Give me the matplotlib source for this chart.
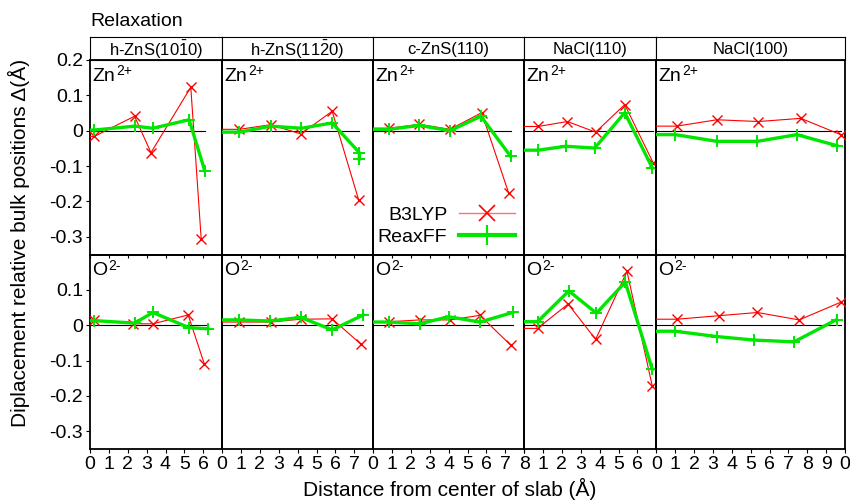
import numpy as np
import matplotlib
matplotlib.use('Agg')
import matplotlib.pyplot as plt
from matplotlib.lines import Line2D


plt.rcParams['font.family'] = ['Liberation Sans', 'DejaVu Sans']
plt.rcParams['mathtext.fontset'] = 'custom'
plt.rcParams['mathtext.rm'] = 'Liberation Sans'
plt.rcParams['mathtext.it'] = 'Liberation Sans:italic'
plt.rcParams['mathtext.bf'] = 'Liberation Sans:bold'

RED = '#ff0000'
GREEN = '#00e600'

surfaces = ['h-ZnS(10$\\bar{1}$0)', 'h-ZnS(11$\\bar{2}$0)', 'c-ZnS(110)', 'NaCl(110)', 'NaCl(100)']
x_limits = [7, 8, 8, 7, 10]
x_tick_labels = [
    ['0', '1', '2', '3', '4', '5', '6'],
    ['0', '1', '2', '3', '4', '5', '6', '7'],
    ['0', '1', '2', '3', '4', '5', '6', '7', '8'],
    ['', '1', '2', '3', '4', '5', '6'],
    ['0', '1', '2', '3', '4', '5', '6', '7', '8', '9', '0'],
]

# Zn2+ row
zn_b3lyp_x = [[0.23, 2.36, 3.23, 5.34, 5.89],
              [0.92, 2.57, 4.17, 5.83, 7.23],
              [0.83, 2.45, 4.08, 5.75, 7.18],
              [0.74, 2.29, 3.79, 5.33, 6.83],
              [1.09, 3.21, 5.41, 7.66, 9.77]]
zn_b3lyp_y = [[-0.016, 0.041, -0.062, 0.123, -0.305],
              [0.004, 0.017, -0.009, 0.055, -0.195],
              [0.007, 0.018, 0.004, 0.051, -0.176],
              [0.012, 0.026, -0.004, 0.074, -0.090],
              [0.013, 0.031, 0.026, 0.035, -0.011]]
zn_reaxff_x = [[0.23, 2.39, 3.32, 5.25, 6.08],
               [0.92, 2.57, 4.20, 5.83, 7.27, 7.27],
               [0.83, 2.45, 4.08, 5.71, 7.28],
               [0.74, 2.20, 3.74, 5.33, 6.80],
               [1.00, 3.21, 5.36, 7.45, 9.56]]
zn_reaxff_y = [[0.002, 0.013, 0.007, 0.031, -0.113],
               [-0.004, 0.013, 0.007, 0.022, -0.062, -0.080],
               [0.004, 0.015, 0.000, 0.041, -0.072],
               [-0.055, -0.044, -0.049, 0.051, -0.106],
               [-0.011, -0.030, -0.030, -0.011, -0.042]]

# O2- row
o_b3lyp_x = [[0.23, 2.30, 3.33, 5.20, 6.06],
             [0.92, 2.57, 4.17, 5.83, 7.34],
             [0.86, 2.47, 4.08, 5.66, 7.28],
             [0.71, 2.33, 3.79, 5.45, 6.79],
             [1.09, 3.33, 5.36, 7.57, 9.77]]
o_b3lyp_y = [[0.015, 0.004, 0.004, 0.029, -0.110],
             [0.009, 0.009, 0.017, 0.018, -0.053],
             [0.010, 0.015, 0.015, 0.028, -0.056],
             [-0.009, 0.060, -0.040, 0.152, -0.172],
             [0.017, 0.027, 0.036, 0.015, 0.065]]
o_reaxff_x = [[0.23, 2.36, 3.33, 5.25, 6.24],
              [0.92, 2.52, 4.17, 5.83, 7.48],
              [0.86, 2.47, 4.00, 5.66, 7.39],
              [0.71, 2.37, 3.83, 5.36, 6.79],
              [1.00, 3.20, 5.19, 7.30, 9.56]]
o_reaxff_y = [[0.013, 0.006, 0.036, -0.007, -0.010],
              [0.015, 0.012, 0.022, -0.013, 0.029],
              [0.009, 0.004, 0.024, 0.009, 0.036],
              [0.010, 0.097, 0.034, 0.122, -0.125],
              [-0.017, -0.032, -0.042, -0.047, 0.016]]

y_ticks_top = [0.2, 0.1, 0, -0.1, -0.2, -0.3]
y_labels_top = ['0.2', '0.1', '0', '-0.1', '-0.2', '-0.3']
y_ticks_bottom = [0.1, 0, -0.1, -0.2, -0.3]
y_labels_bottom = ['0.1', '0', '-0.1', '-0.2', '-0.3']


def draw_series(ax, xs, ys, color, lw, marker, ms, mew):
    # the slab is symmetric, so the line continues to the mirrored point
    x = np.concatenate([[-xs[0]], xs])
    y = np.concatenate([[ys[0]], ys])
    ax.plot(x, y, color=color, lw=lw, marker=marker, ms=ms, mew=mew,
            markevery=slice(1, None), zorder=3)


def draw_panel(ax, bx, by, rx, ry, ion, sup, sup_off):
    xmax = max(bx[-1], rx[-1])
    ax.plot([0, xmax], [0, 0], color='black', lw=0.8, zorder=1)
    draw_series(ax, bx, by, RED, 0.8, 'x', 7, 1.0)
    draw_series(ax, rx, ry, GREEN, 2.4, '+', 8, 1.4)
    ax.annotate(ion, xy=(0, 1), xycoords='axes fraction', xytext=(1.5, -5.5),
                textcoords='offset points', ha='left', va='top', fontsize=14)
    ax.annotate(sup, xy=(0, 1), xycoords='axes fraction', xytext=(sup_off, -3),
                textcoords='offset points', ha='left', va='top', fontsize=10)


fig = plt.figure(figsize=(8.5, 5.04), dpi=100)
W, H = 850, 504
gs = fig.add_gridspec(2, 5, width_ratios=x_limits, left=90 / W, right=845 / W,
                      top=1 - 60 / H, bottom=1 - 449 / H, wspace=0, hspace=0)
hs = fig.add_gridspec(1, 5, width_ratios=x_limits, left=90 / W, right=845 / W,
                      top=1 - 37 / H, bottom=1 - 60 / H, wspace=0)

for col in range(5):
    hax = fig.add_subplot(hs[0, col])
    hax.set_xticks([])
    hax.set_yticks([])
    hax.text(0.5, 0.45, surfaces[col], ha='center', va='center', fontsize=12,
             transform=hax.transAxes)

    top = fig.add_subplot(gs[0, col])
    bot = fig.add_subplot(gs[1, col])
    draw_panel(top, zn_b3lyp_x[col], zn_b3lyp_y[col], zn_reaxff_x[col], zn_reaxff_y[col],
               'Zn', '2+', 19)
    draw_panel(bot, o_b3lyp_x[col], o_b3lyp_y[col], o_reaxff_x[col], o_reaxff_y[col],
               'O', '2-', 13)

    for ax in (top, bot):
        ax.set_facecolor('none')
        ax.set_xlim(0, x_limits[col])
        ax.set_ylim(-0.35, 0.2)
        for sp in ax.spines.values():
            sp.set_linewidth(1.3)
        ticks = list(range(len(x_tick_labels[col])))
        ax.set_xticks(ticks)
        if col == 0:
            ax.tick_params(axis='y', direction='out', length=3, labelsize=14, pad=2)
        else:
            ax.set_yticks([])
    top.set_zorder(2)
    top.set_xticklabels([])
    top.tick_params(axis='x', direction='out', length=2)
    bot.set_xticklabels(x_tick_labels[col])
    bot.tick_params(axis='x', direction='out', length=3, labelsize=14, pad=2)
    if col == 0:
        top.set_yticks(y_ticks_top)
        top.set_yticklabels(y_labels_top)
        bot.set_yticks(y_ticks_bottom)
        bot.set_yticklabels(y_labels_bottom)
    if col == 2:
        handles = [Line2D([], [], color='#ff7070', lw=1.0, marker='x', ms=12,
                          mew=1.2, mec=RED),
                   Line2D([], [], color=GREEN, lw=3, marker='+', ms=14, mew=1.5)]
        top.legend(handles, ['B3LYP', 'ReaxFF'], loc='lower right', markerfirst=False,
                   frameon=False, fontsize=14, handlelength=2.9, handletextpad=0.6,
                   labelspacing=0.2, borderaxespad=0.05)

fig.text(90 / W, 1 - 22 / H, 'Relaxation', ha='left', va='center', fontsize=14)
fig.text(450 / W, 1 - 489 / H, 'Distance from center of slab (Å)',
         ha='center', va='center', fontsize=15)
fig.text(19 / W, 1 - 243 / H, 'Diplacement relative bulk positions Δ(Å)',
         ha='center', va='center', rotation=90, fontsize=15)

fig.savefig('out.png', dpi=100)
